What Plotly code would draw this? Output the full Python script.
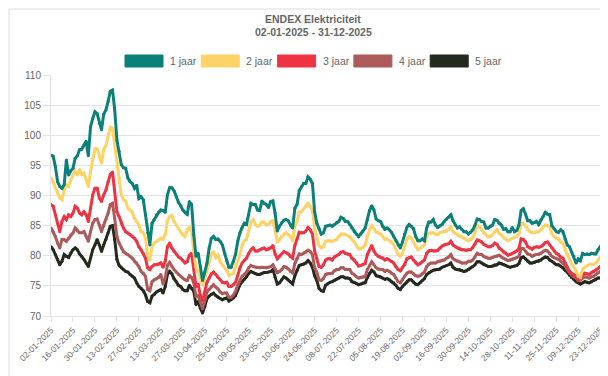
import pandas as pd
import plotly.graph_objects as go

# ---------------- data ----------------
HOLIDAYS = ["2025-01-01", "2025-04-18", "2025-05-29", "2025-06-09", "2025-12-25", "2025-12-26"]
_days = pd.bdate_range("2025-01-01", "2025-12-31")
_days = _days[~_days.isin(pd.to_datetime(HOLIDAYS))]
DATES = [d.strftime("%d-%m-%Y") for d in _days]

TICK_LABELS = ["02-01-2025", "16-01-2025", "30-01-2025", "13-02-2025", "27-02-2025", "13-03-2025",
               "27-03-2025", "10-04-2025", "25-04-2025", "09-05-2025", "23-05-2025", "10-06-2025",
               "24-06-2025", "08-07-2025", "22-07-2025", "05-08-2025", "19-08-2025", "02-09-2025",
               "16-09-2025", "30-09-2025", "14-10-2025", "28-10-2025", "11-11-2025", "25-11-2025",
               "09-12-2025", "23-12-2025"]

SERIES_NAMES = ["1 jaar", "2 jaar", "3 jaar", "4 jaar", "5 jaar"]

JAAR_1 = [
    96.7, 96.5, 94.8, 92.3, 91.5, 91.2, 91.8, 95.9, 93.4, 94.1,
    94.5, 96.2, 96.6, 97.6, 97.7, 98.4, 99.0, 96.6, 101.4, 102.8,
    103.9, 103.6, 102.0, 100.9, 103.5, 104.2, 105.6, 107.3, 107.5, 104.2,
    99.2, 97.3, 95.1, 94.6, 94.5, 92.9, 92.3, 92.0, 91.2, 91.7,
    89.5, 89.8, 89.3, 86.8, 83.8, 81.8, 85.4, 86.0, 86.8, 87.2,
    87.6, 87.5, 87.2, 90.1, 91.3, 91.3, 90.8, 89.8, 88.9, 88.3,
    87.6, 87.2, 86.9, 89.0, 88.5, 83.5, 79.9, 80.4, 78.2, 75.9,
    77.3, 78.8, 81.3, 82.9, 83.2, 82.7, 82.8, 82.4, 81.8, 80.4,
    79.2, 78.1, 78.1, 79.1, 80.2, 82.4, 83.8, 84.7, 85.4, 85.2,
    86.8, 88.7, 88.5, 88.5, 87.6, 87.5, 89.1, 88.7, 88.5, 88.0,
    89.0, 89.1, 87.1, 84.1, 84.9, 85.5, 85.9, 86.0, 85.8, 85.1,
    84.6, 87.9, 88.5, 90.8, 91.5, 92.0, 92.0, 93.1, 92.7, 92.0,
    87.3, 85.4, 84.5, 83.6, 83.8, 84.9, 85.0, 85.1, 84.9, 85.2,
    85.5, 85.7, 86.4, 86.2, 85.7, 85.7, 85.2, 84.6, 84.0, 83.6,
    83.2, 83.6, 84.1, 84.6, 86.0, 87.5, 88.3, 87.6, 86.1, 85.8,
    85.7, 84.9, 84.4, 84.6, 84.3, 83.9, 83.2, 82.5, 81.8, 81.3,
    82.3, 83.6, 84.7, 85.2, 84.9, 84.5, 83.2, 82.5, 82.5, 82.8,
    82.5, 84.6, 85.6, 85.6, 86.0, 85.1, 84.7, 85.0, 85.2, 85.7,
    86.1, 86.4, 86.8, 85.8, 85.1, 84.6, 84.8, 84.4, 84.0, 84.0,
    83.6, 83.9, 84.3, 85.1, 86.1, 86.0, 85.7, 85.6, 84.6, 84.6,
    84.9, 85.1, 86.0, 85.9, 85.4, 85.1, 84.4, 84.5, 84.0, 84.0,
    84.7, 84.0, 84.2, 85.1, 87.5, 87.8, 86.9, 85.8, 85.8, 85.4,
    85.5, 85.7, 85.2, 86.0, 86.5, 87.2, 86.9, 86.8, 85.0, 84.5,
    84.0, 83.9, 84.3, 84.0, 82.8, 81.8, 81.5, 80.6, 79.9, 78.8,
    79.5, 79.2, 80.4, 80.2, 80.3, 80.2, 80.4, 80.3, 80.3, 81.0,
    81.5, 81.0, 80.6, 79.9, 80.1,
]

JAAR_2 = [
    92.9, 92.3, 91.2, 90.4, 89.6, 89.3, 90.9, 91.8, 91.5, 92.6,
    93.4, 94.0, 93.5, 94.3, 93.5, 93.7, 92.6, 91.5, 94.0, 96.2,
    97.8, 97.8, 96.5, 95.4, 97.6, 98.3, 99.8, 101.3, 101.2, 98.4,
    94.8, 92.9, 90.1, 89.3, 89.1, 87.9, 87.6, 87.2, 86.2, 85.7,
    85.1, 84.0, 83.8, 82.9, 80.2, 79.3, 81.5, 82.1, 82.4, 82.6,
    82.9, 82.7, 83.5, 85.8, 86.5, 86.7, 85.7, 85.1, 84.5, 83.9,
    83.5, 83.2, 84.3, 84.7, 84.0, 80.7, 78.1, 77.4, 76.3, 75.1,
    76.2, 77.4, 79.0, 80.4, 80.6, 79.7, 80.1, 79.0, 78.4, 78.0,
    77.6, 76.7, 76.9, 77.1, 78.2, 79.2, 80.2, 81.8, 82.5, 82.7,
    84.0, 85.6, 86.0, 85.2, 84.9, 85.1, 85.6, 85.6, 85.1, 85.2,
    85.7, 85.8, 84.3, 82.3, 82.7, 83.2, 83.6, 83.8, 83.5, 83.2,
    82.5, 85.0, 85.7, 87.2, 87.3, 87.8, 88.2, 88.7, 88.2, 87.5,
    84.6, 82.9, 81.7, 81.3, 81.5, 82.4, 82.5, 82.5, 82.4, 82.5,
    82.7, 83.2, 83.6, 83.6, 83.5, 83.4, 83.1, 82.7, 82.3, 81.7,
    81.1, 81.2, 81.4, 81.7, 83.2, 84.3, 85.0, 84.5, 83.9, 83.8,
    83.6, 83.2, 82.7, 82.8, 82.5, 82.3, 81.9, 81.0, 80.2, 79.9,
    80.4, 81.5, 82.8, 83.2, 82.9, 82.3, 81.5, 81.0, 81.2, 81.5,
    81.8, 83.2, 83.7, 83.8, 83.8, 83.6, 83.5, 83.8, 84.0, 84.0,
    84.1, 84.4, 84.8, 84.0, 83.7, 83.5, 83.3, 83.1, 82.9, 82.6,
    82.5, 82.7, 83.0, 83.8, 85.0, 84.9, 84.3, 83.8, 83.5, 83.1,
    83.2, 83.5, 84.0, 84.3, 83.7, 83.5, 83.0, 82.8, 82.5, 82.7,
    82.9, 83.1, 83.2, 83.6, 85.4, 85.4, 84.9, 84.3, 84.0, 83.8,
    83.9, 84.0, 84.0, 84.3, 84.7, 85.1, 85.0, 84.8, 83.6, 83.2,
    82.9, 82.8, 82.2, 82.1, 81.0, 80.2, 79.5, 78.6, 78.1, 77.5,
    76.6, 76.4, 77.8, 78.1, 78.4, 78.5, 78.5, 78.6, 78.8, 79.2,
    79.8, 79.4, 79.3, 79.1, 79.1,
]

JAAR_3 = [
    88.5, 88.2, 86.8, 85.4, 84.0, 85.7, 86.5, 86.0, 86.8, 86.5,
    87.1, 88.2, 87.9, 87.1, 86.8, 87.3, 86.8, 85.7, 87.9, 90.1,
    91.2, 91.2, 89.6, 89.0, 90.1, 90.9, 92.3, 93.5, 93.9, 90.9,
    87.3, 86.5, 85.4, 84.6, 84.0, 83.8, 83.5, 83.2, 82.9, 82.4,
    81.5, 81.0, 80.4, 79.6, 78.0, 77.7, 78.2, 78.5, 78.5, 78.6,
    78.8, 78.1, 79.1, 81.5, 82.1, 81.3, 80.7, 80.3, 79.8, 79.6,
    79.2, 78.8, 79.0, 80.1, 80.4, 78.0, 74.9, 75.2, 73.4, 72.5,
    74.0, 75.6, 76.3, 77.0, 77.3, 76.9, 76.4, 76.0, 75.6, 75.5,
    75.6, 74.9, 74.9, 75.2, 75.6, 76.7, 78.0, 78.8, 79.3, 79.6,
    80.4, 81.0, 81.3, 80.8, 80.8, 81.0, 81.2, 81.3, 81.0, 81.1,
    81.3, 81.7, 80.3, 79.5, 79.9, 80.3, 80.7, 80.5, 80.3, 79.9,
    79.6, 81.7, 82.8, 83.9, 83.8, 83.8, 84.1, 84.7, 84.3, 83.6,
    80.8, 79.6, 78.2, 78.1, 78.5, 79.3, 79.5, 79.5, 79.3, 79.8,
    80.0, 80.2, 80.6, 80.7, 80.4, 80.3, 80.2, 79.6, 79.3, 78.8,
    78.3, 78.4, 78.6, 78.7, 80.2, 81.0, 81.7, 80.8, 80.2, 79.9,
    79.8, 79.6, 79.3, 79.5, 79.3, 79.1, 78.8, 78.2, 77.7, 77.5,
    78.1, 78.6, 79.5, 79.7, 79.8, 79.3, 78.8, 78.5, 78.7, 79.0,
    79.3, 80.4, 80.8, 80.9, 80.8, 80.8, 80.9, 81.3, 81.6, 81.8,
    81.9, 82.0, 82.4, 81.8, 81.5, 81.3, 81.1, 81.0, 81.0, 80.9,
    81.0, 81.0, 81.4, 81.9, 82.6, 82.5, 82.3, 81.9, 81.7, 81.5,
    81.5, 81.7, 82.1, 81.9, 81.3, 81.0, 80.6, 80.4, 80.1, 80.2,
    80.4, 80.6, 80.8, 81.2, 82.8, 82.7, 82.3, 81.5, 81.3, 81.1,
    81.4, 81.5, 81.4, 81.5, 81.8, 82.2, 82.3, 81.8, 81.3, 80.8,
    80.4, 80.2, 79.8, 79.6, 78.8, 78.0, 77.4, 77.1, 76.9, 76.6,
    76.0, 76.2, 76.9, 77.1, 77.0, 76.9, 77.2, 77.4, 77.6, 77.9,
    78.2, 77.9, 77.8, 77.7, 77.8,
]

JAAR_4 = [
    84.6, 84.0, 83.2, 82.1, 81.3, 82.7, 82.7, 82.4, 82.9, 83.5,
    83.8, 84.6, 84.1, 83.8, 83.8, 84.0, 83.2, 82.4, 84.0, 85.4,
    86.0, 86.1, 85.1, 84.0, 85.1, 86.0, 87.1, 88.5, 88.7, 86.2,
    83.2, 82.1, 81.3, 80.7, 80.4, 80.2, 79.9, 79.6, 79.1, 78.8,
    78.2, 77.4, 77.1, 76.6, 74.4, 74.2, 75.7, 76.0, 76.2, 76.4,
    76.9, 75.3, 76.3, 78.4, 78.9, 78.2, 77.7, 77.3, 76.9, 76.6,
    76.3, 76.0, 75.9, 76.7, 76.4, 75.5, 73.3, 73.4, 72.3, 71.2,
    72.5, 74.0, 74.4, 74.9, 75.2, 74.8, 74.5, 74.0, 73.7, 73.8,
    73.8, 73.1, 73.1, 73.5, 74.1, 75.1, 76.0, 76.6, 76.9, 77.3,
    78.0, 78.4, 78.2, 78.1, 78.0, 78.0, 78.1, 78.0, 78.0, 78.1,
    78.2, 78.5, 77.8, 77.2, 77.4, 77.7, 78.2, 78.1, 77.8, 77.4,
    77.1, 78.7, 79.5, 80.3, 80.2, 80.4, 80.6, 80.9, 80.7, 80.2,
    78.0, 77.3, 76.0, 75.9, 76.2, 76.9, 77.0, 77.1, 77.1, 77.5,
    77.7, 77.7, 78.0, 78.0, 77.7, 77.7, 77.7, 77.1, 76.9, 76.5,
    76.3, 76.4, 76.5, 76.5, 77.7, 78.4, 79.0, 78.5, 78.0, 77.8,
    77.7, 77.7, 77.4, 77.6, 77.4, 77.1, 76.9, 76.3, 75.7, 75.5,
    76.0, 76.7, 77.1, 77.3, 77.3, 77.0, 76.7, 76.6, 76.7, 77.0,
    77.3, 78.2, 78.6, 78.8, 78.8, 78.8, 79.0, 79.1, 79.2, 79.3,
    79.6, 79.8, 80.2, 79.5, 79.3, 79.1, 79.0, 78.8, 78.8, 78.8,
    79.1, 79.1, 79.3, 79.8, 80.4, 80.2, 80.2, 79.9, 79.7, 79.6,
    79.6, 79.7, 79.9, 79.9, 80.1, 79.8, 79.6, 79.4, 79.2, 79.3,
    79.4, 79.6, 79.7, 79.9, 81.2, 81.2, 80.8, 80.3, 80.2, 79.9,
    80.1, 80.2, 80.2, 80.4, 80.7, 80.9, 80.8, 80.4, 79.9, 79.7,
    79.6, 79.4, 79.1, 78.8, 78.4, 77.7, 77.2, 76.8, 76.5, 76.3,
    75.9, 76.0, 76.3, 76.5, 76.4, 76.3, 76.5, 76.6, 76.9, 77.2,
    77.4, 77.2, 77.0, 76.9, 77.1,
]

JAAR_5 = [
    81.5, 81.0, 80.2, 79.4, 78.5, 79.1, 80.2, 79.9, 79.7, 80.4,
    81.0, 81.3, 81.0, 80.3, 79.9, 79.4, 78.8, 78.2, 79.6, 81.0,
    81.8, 82.7, 81.8, 80.7, 81.8, 82.7, 83.8, 84.9, 85.0, 82.7,
    79.4, 78.4, 78.0, 77.7, 77.4, 77.3, 76.9, 76.6, 76.3, 75.5,
    74.9, 74.6, 74.2, 73.5, 72.4, 72.2, 73.3, 73.6, 74.0, 74.2,
    74.4, 73.8, 74.9, 76.9, 77.4, 77.0, 76.2, 75.7, 75.1, 74.9,
    74.4, 74.2, 74.2, 75.1, 74.6, 74.1, 71.9, 72.4, 71.3, 70.5,
    71.6, 72.9, 73.3, 73.6, 73.8, 73.4, 73.1, 72.9, 72.7, 72.9,
    73.0, 72.5, 72.7, 73.0, 73.4, 74.4, 75.2, 75.7, 76.1, 76.5,
    77.1, 77.4, 77.2, 77.0, 76.9, 76.9, 77.1, 77.2, 77.2, 77.3,
    77.4, 77.7, 76.4, 75.3, 75.5, 76.0, 76.5, 76.3, 76.0, 75.7,
    75.3, 76.7, 77.6, 78.4, 78.5, 78.6, 78.8, 79.2, 78.8, 78.1,
    76.7, 75.9, 74.6, 74.2, 74.1, 75.1, 75.4, 75.6, 75.7, 75.9,
    76.1, 76.3, 76.5, 76.5, 76.3, 76.3, 76.2, 75.7, 75.6, 75.4,
    75.2, 75.3, 75.5, 75.5, 76.4, 77.1, 77.6, 77.3, 76.7, 76.6,
    76.5, 76.3, 76.1, 76.2, 76.0, 75.7, 75.5, 75.1, 74.6, 74.4,
    74.9, 75.3, 75.7, 76.0, 76.0, 75.6, 75.3, 75.2, 75.5, 75.9,
    76.2, 76.9, 77.2, 77.4, 77.6, 77.7, 77.7, 77.8, 78.1, 78.2,
    78.4, 78.5, 78.8, 78.1, 77.8, 77.7, 77.7, 77.6, 77.4, 77.5,
    77.7, 78.0, 78.2, 78.5, 79.0, 79.0, 78.8, 78.5, 78.4, 78.2,
    78.2, 78.3, 78.5, 78.5, 78.8, 78.7, 78.5, 78.4, 78.2, 78.1,
    78.2, 78.3, 78.4, 78.7, 79.7, 79.8, 79.5, 79.1, 78.8, 78.8,
    78.9, 79.1, 79.1, 79.3, 79.6, 79.8, 79.7, 79.3, 79.1, 78.8,
    78.5, 78.5, 78.3, 78.0, 77.6, 77.3, 76.8, 76.4, 76.1, 75.7,
    75.5, 75.3, 75.5, 75.7, 75.6, 75.5, 75.7, 75.9, 76.0, 76.3,
    76.3, 76.3, 76.4, 76.6, 76.6,
]

SERIES = [JAAR_1, JAAR_2, JAAR_3, JAAR_4, JAAR_5]
COLORS = ["#0b8079", "#ffd266", "#ee3443", "#ad5a5a", "#252a1e"]

# ---------------- layout geometry (pixels) ----------------
W, H = 608, 376
L, R, T, B = 43, 7, 67, 68
PW, PH = W - L - R, H - T - B


def xp(px):
    return (px - L) / PW


def yp(py):
    return (H - B - py) / PH


FONT = "Liberation Sans, Arial, Helvetica, sans-serif"
GREY = "#666666"
GRID = "#e4e4e4"

fig = go.Figure()
for name, vals, col in reversed(list(zip(SERIES_NAMES, SERIES, COLORS))):
    fig.add_trace(go.Scatter(
        x=DATES, y=vals, name=name, mode="lines+markers",
        line=dict(color=col, width=3),
        marker=dict(color=col, size=3),
        showlegend=False,
    ))

shapes = []
annotations = []
# legend (custom wide boxes)
for k, (name, col) in enumerate(zip(SERIES_NAMES, COLORS)):
    x0 = 117 + k * 76.3
    shapes.append(dict(type="rect", xref="paper", yref="paper",
                       x0=xp(x0), x1=xp(x0 + 38), y0=yp(59), y1=yp(47),
                       fillcolor=col, line=dict(color=col, width=1), layer="above"))
    annotations.append(dict(xref="paper", yref="paper", x=xp(x0 + 43), y=yp(53),
                            xanchor="left", yanchor="middle", showarrow=False,
                            text=name, font=dict(family=FONT, size=10.5, color=GREY)))

# title
annotations.append(dict(xref="paper", yref="paper", x=xp(305), y=yp(11),
                        xanchor="center", yanchor="middle", showarrow=False,
                        text="<b>ENDEX Elektriciteit</b>",
                        font=dict(family=FONT, size=10.5, color=GREY)))
annotations.append(dict(xref="paper", yref="paper", x=xp(305), y=yp(24),
                        xanchor="center", yanchor="middle", showarrow=False,
                        text="<b>02-01-2025 - 31-12-2025</b>",
                        font=dict(family=FONT, size=10.5, color=GREY)))

# outer frame
shapes.append(dict(type="rect", xref="paper", yref="paper",
                   x0=xp(1), x1=xp(603), y0=yp(372), y1=yp(1),
                   line=dict(color="#dddddd", width=1), fillcolor="rgba(0,0,0,0)",
                   layer="below"))

fig.update_layout(
    width=W, height=H,
    margin=dict(l=L, r=R, t=T, b=B),
    paper_bgcolor="white", plot_bgcolor="white",
    font=dict(family=FONT, color=GREY),
    shapes=shapes, annotations=annotations,
    hovermode=False,
)
fig.update_xaxes(
    type="category", range=[0, len(DATES) - 1],
    tickmode="array", tickvals=TICK_LABELS, ticktext=TICK_LABELS,
    tickangle=-45, tickfont=dict(family=FONT, size=8.5, color=GREY),
    showgrid=False, showline=True, linecolor=GRID, linewidth=1,
    ticks="outside", ticklen=5, tickcolor=GRID,
)
fig.update_yaxes(
    range=[70, 110], dtick=5, tick0=70,
    tickfont=dict(family=FONT, size=10, color=GREY),
    showgrid=True, gridcolor=GRID, gridwidth=1,
    showline=True, linecolor=GRID, linewidth=1,
    ticks="outside", ticklen=7, tickcolor=GRID,
    zeroline=False,
)

fig.write_html("out.html")
